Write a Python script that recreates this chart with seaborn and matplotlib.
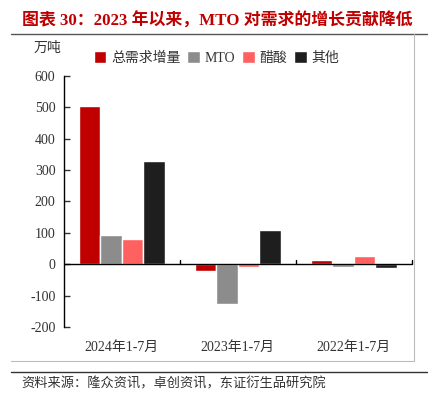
import matplotlib.pyplot as plt
import numpy as np
import pandas as pd
import seaborn as sns

periods = ["2024年1-7月", "2023年1-7月", "2022年1-7月"]
series = ["总需求增量", "MTO", "醋酸", "其他"]
total_vals = [505, -23, 12]
mto_vals = [94, -127, -8]
acetic_vals = [80, -8, 25]
other_vals = [330, 110, -12]
colors = ["#C00000", "#8C8C8C", "#FF6161", "#1E1E1E"]

rows = []
for s, vals in zip(series, [total_vals, mto_vals, acetic_vals, other_vals]):
    for p, v in zip(periods, vals):
        rows.append({"period": p, "series": s, "value": v})
df = pd.DataFrame(rows)

sns.set_style("white")
plt.rcParams["font.family"] = ["Liberation Serif", "Noto Sans CJK SC"]
plt.rcParams["axes.unicode_minus"] = False

fig = plt.figure(figsize=(4.34, 3.95), dpi=100)
ax = fig.add_axes([0.147, 0.172, 0.802, 0.636])

sns.barplot(data=df, x="period", y="value", hue="series", order=periods,
            hue_order=series, palette=colors, width=0.74, gap=0,
            saturation=1, ax=ax, legend=True)

ax.set_ylim(-200, 600)
ax.set_xlim(-0.5, 2.5)
ax.set_yticks(np.arange(-200, 601, 100))
ax.set_xlabel("")
ax.set_ylabel("")
ax.axhline(0, color="black", lw=1)
for s in ["top", "right", "bottom"]:
    ax.spines[s].set_visible(False)
ax.spines["left"].set_color("black")
ax.spines["left"].set_linewidth(1)
ax.tick_params(axis="y", direction="in", length=4, width=1, left=True,
               labelsize=10, colors="#333333", pad=6)
ax.tick_params(axis="x", length=0, labelsize=10, colors="#333333", pad=10)
for xb in [0.5, 1.5, 2.5]:
    ax.plot([xb, xb], [0, 12], color="black", lw=1, clip_on=False)

leg = ax.legend(loc="center left", bbox_to_anchor=(0.05, 1.07), ncol=4,
                frameon=False, fontsize=10, handlelength=0.9, handleheight=0.9,
                handletextpad=0.35, columnspacing=0.5)
for t in leg.get_texts():
    t.set_color("#333333")

fig.text(0.078, 0.878, "万吨", fontsize=10, color="#333333", va="center")
fig.text(0.5, 0.947, "图表 30：2023 年以来，MTO 对需求的增长贡献降低",
         ha="center", va="center", fontsize=12.2, color="#C00000",
         fontweight="bold")

fig.add_artist(plt.Line2D([0.025, 0.985], [0.913, 0.913], color="#555555", lw=1))
fig.add_artist(plt.Line2D([0.954, 0.954], [0.913, 0.087], color="#BBBBBB", lw=0.8))
fig.add_artist(plt.Line2D([0.025, 0.954], [0.087, 0.087], color="#BBBBBB", lw=0.8))
fig.add_artist(plt.Line2D([0.025, 0.985], [0.058, 0.058], color="#333333", lw=1))
fig.text(0.05, 0.028, "资料来源：隆众资讯，卓创资讯，东证衍生品研究院",
         fontsize=9.5, color="#333333", va="center")

plt.savefig("out.png", dpi=100)
